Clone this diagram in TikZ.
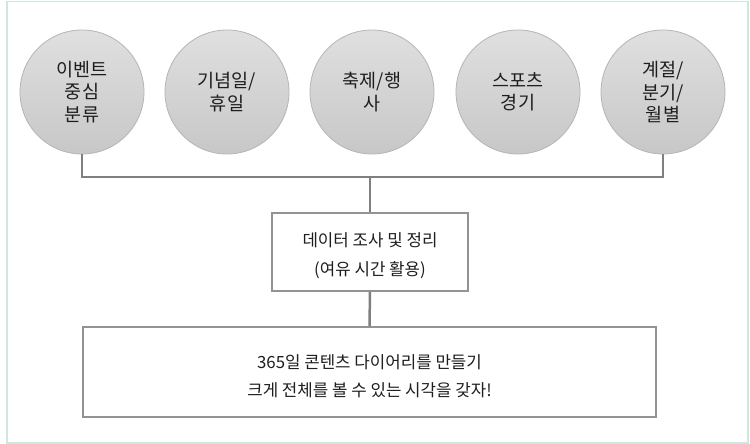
\documentclass[tikz,border=0pt]{standalone}
\usepackage{fontspec}
\setmainfont{Noto Sans CJK KR}
\definecolor{frame}{HTML}{CFE8DC}
\definecolor{circfill}{HTML}{D2D2D2}
\definecolor{circline}{HTML}{B5B5B5}
\definecolor{conn}{HTML}{7F7F7F}
\definecolor{boxline}{HTML}{939393}
\definecolor{txt}{HTML}{1E1E1E}
\begin{document}
\begin{tikzpicture}[x=1bp,y=-1bp,
  topic/.style={circle, draw=circline, line width=0.8bp, top color=circfill!70!white, bottom color=circfill!95!black, minimum size=124bp, inner sep=0pt, align=center, text=txt, font=\fontsize{18.5bp}{22.5bp}\selectfont},
  infobox/.style={draw=boxline, line width=1.5bp, fill=white, inner sep=0pt},
  boxtext/.style={inner sep=0pt, align=center, text=txt, font=\fontsize{16.8bp}{28.5bp}\selectfont},
  link/.style={draw=conn, line width=2.5bp}]
\useasboundingbox (0,0) rectangle (750,444);
\fill[white] (0,0) rectangle (750,444);
\draw[frame, line width=1.5bp] (7,1.5) rectangle (748,443);
\node[topic] (c1) at (82,92) {이벤트\\중심\\분류};
\node[topic] (c2) at (227,92) {기념일/\\휴일};
\node[topic] (c3) at (372,92) {축제/행\\사};
\node[topic] (c4) at (518,92) {스포츠\\경기};
\node[topic] (c5) at (663,92) {계절/\\분기/\\월별};
\node[infobox, minimum width=196bp, minimum height=78bp] (b1) at (370,252) {};
\node[boxtext] (t1) at ([yshift=-3.5bp]b1.center) {데이터 조사 및 정리\\(여유 시간 활용)};
\node[infobox, minimum width=573bp, minimum height=90bp] (b2) at (369.5,372) {};
\node[boxtext] (t2) at ([yshift=-4bp]b2.center) {365일 콘텐츠 다이어리를 만들기\\크게 전체를 볼 수 있는 시각을 갖자!};
\coordinate (bus) at (370,177);
\draw[link] (c1.south) -- (c1.south |- bus) -- (c5.south |- bus) -- (c5.south);
\draw[link] (bus) -- (b1.north);
\draw[link] (b1.south) -- (b2.north);
\end{tikzpicture}
\end{document}
